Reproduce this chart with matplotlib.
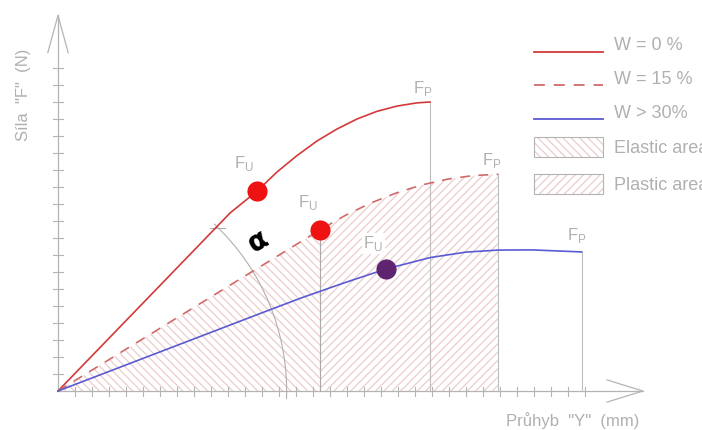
import matplotlib
matplotlib.use("Agg")
import matplotlib.pyplot as plt
from matplotlib.patches import Arc, Rectangle
from matplotlib.lines import Line2D

# ---- data (deflection Y vs. force F, arbitrary units) ----
w0_y = [0, 10.12, 11.71, 12.88, 14.06, 15.24, 16.41, 17.59, 18.76, 19.94, 21.12, 21.88]
w0_f = [0, 10.47, 11.76, 12.88, 13.85, 14.71, 15.41, 16.0, 16.45, 16.76, 16.95, 17.0]
w0_fu = (11.71, 11.76)

w15_y = [0, 15.4, 16.9, 18.4, 19.9, 21.4, 22.9, 24.4, 25.9]
w15_f = [0, 9.47, 10.33, 11.06, 11.65, 12.12, 12.46, 12.67, 12.75]
w15_fu = (15.4, 9.47)

w30_y = [0, 12.0, 14.24, 16.8, 19.3, 21.9, 24.0, 25.9, 27.9, 30.8]
w30_f = [0, 4.6, 5.45, 6.35, 7.18, 7.85, 8.17, 8.29, 8.3, 8.18]
w30_fu = (19.3, 7.18)

x_ticks = list(range(1, 32))
y_ticks = list(range(1, 20))
alpha_radius = 13.45

legend_labels = ["W = 0 %", "W = 15 %", "W > 30%", "Elastic area", "Plastic area"]

GRAY = "#b4b4b4"
TXT = "#b0b0b0"
RED = "#d23a3a"
RED_D = "#cf6a6a"
BLUE = "#5a5ad2"
HATCH = "#edcccc"
FONT = ["Liberation Sans Narrow", "Liberation Sans", "DejaVu Sans"]

plt.rcParams["hatch.linewidth"] = 0.9

fig = plt.figure(figsize=(7.02, 4.30), dpi=100)
ax = fig.add_axes([0, 0, 1, 1])
ax.set_xlim(-58 / 17, (702 - 58) / 17)
ax.set_ylim(-39 / 17, 391 / 17)
ax.axis("off")

# hatched areas under the W = 15 % curve
el = [(u, v) for u, v in zip(w15_y, w15_f) if u <= w15_fu[0]] + [(w15_fu[0], 0)]
pl = [(u, v) for u, v in zip(w15_y, w15_f) if u >= w15_fu[0]] + [(w15_y[-1], 0), (w15_fu[0], 0)]
ax.fill([p[0] for p in el], [p[1] for p in el], facecolor="none", edgecolor=HATCH,
        hatch="\\\\\\\\", linewidth=0, zorder=1)
ax.fill([p[0] for p in pl], [p[1] for p in pl], facecolor="none", edgecolor=HATCH,
        hatch="////", linewidth=0, zorder=1)

# axes with arrows and ticks
ax.plot([0, 34.4], [0, 0], color=GRAY, lw=0.9, zorder=2)
ax.plot([32.3, 34.4, 32.3], [0.65, 0, -0.65], color=GRAY, lw=0.9, zorder=2)
ax.plot([0, 0], [0, 22.1], color=GRAY, lw=0.9, zorder=2)
ax.plot([-0.6, 0, 0.6], [19.9, 22.1, 19.9], color=GRAY, lw=0.9, zorder=2)
for t in x_ticks:
    ax.plot([t, t], [-0.3, 0.25], color=GRAY, lw=0.8, zorder=2)
for t in y_ticks:
    ax.plot([-0.3, 0.3], [t, t], color=GRAY, lw=0.8, zorder=2)

# vertical guides at F_U / F_P
vcol = "#bdbdbd"
ax.plot([w15_fu[0]] * 2, [0, w15_fu[1]], color="#a8a8a8", lw=0.8, zorder=2)
ax.plot([w0_y[-1]] * 2, [0, w0_f[-1]], color=vcol, lw=0.8, zorder=2)
ax.plot([w15_y[-1]] * 2, [0, w15_f[-1]], color=vcol, lw=0.8, zorder=2)
ax.plot([w30_y[-1]] * 2, [0, w30_f[-1]], color=vcol, lw=0.8, zorder=2)

# angle arc
ax.add_patch(Arc((0, 0), 2 * alpha_radius, 2 * alpha_radius, theta1=-2, theta2=47,
                 color="#b0b0b0", lw=0.8, zorder=2))
ax.plot([8.95, 9.85], [9.59, 9.59], color="#b0b0b0", lw=0.8, zorder=2)
ax.text(11.76, 8.8, "α", fontsize=20, fontweight="bold", color="black",
        family="DejaVu Sans", rotation=30, ha="center", va="center", zorder=5)

# curves
ax.plot(w0_y, w0_f, color=RED, lw=1.2, zorder=3)
ax.plot(w15_y, w15_f, color=RED_D, lw=1.2, ls=(0, (6, 5)), zorder=3)
ax.plot(w30_y, w30_f, color=BLUE, lw=1.2, zorder=3)

ax.plot(*w0_fu, "o", ms=14.5, color="#ee1212", mec="none", zorder=4)
ax.plot(*w15_fu, "o", ms=14.5, color="#ee1212", mec="none", zorder=4)
ax.plot(*w30_fu, "o", ms=14.5, color="#5e2470", mec="none", zorder=4)

# F labels
fu = r"F$_\mathregular{U}$"
fp = r"F$_\mathregular{P}$"
lab = dict(fontsize=12, color=TXT, ha="center", va="center", family=FONT, zorder=5)
ax.text(w0_fu[0] - 0.8, w0_fu[1] + 1.6, fu, **lab)
ax.text(w15_fu[0] - 0.7, w15_fu[1] + 1.6, fu, **lab)
ax.text(w30_fu[0] - 0.75, w30_fu[1] + 1.5, fu,
        bbox=dict(facecolor="white", edgecolor="none", pad=1), **lab)
ax.text(w0_y[-1] - 0.4, w0_f[-1] + 0.8, fp, **lab)
ax.text(w15_y[-1] - 0.4, w15_f[-1] + 0.8, fp, **lab)
ax.text(w30_y[-1] - 0.3, w30_f[-1] + 0.95, fp, **lab)

# axis titles
ax.text(-2.0, 17.4, 'Síla  "F"  (N)', rotation=90, fontsize=12, color=TXT,
        ha="center", va="center", family=FONT)
ax.text(30.3, -1.71, 'Průhyb  "Y"  (mm)', fontsize=12, color=TXT,
        ha="center", va="center", family=FONT)

# legend
T = ax.transAxes
def fx(px):
    return px / 702
def fy(py):
    return 1 - py / 430

ax.add_line(Line2D([fx(534), fx(603)], [fy(52)] * 2, transform=T, color=RED, lw=1.3))
ax.add_line(Line2D([fx(534), fx(603)], [fy(85)] * 2, transform=T, color=RED_D, lw=1.3,
                   ls=(0, (6, 5))))
ax.add_line(Line2D([fx(534), fx(603)], [fy(119)] * 2, transform=T, color=BLUE, lw=1.3))
for top, bot, h in [(137, 157, "\\\\\\\\"), (174, 194, "////")]:
    ax.add_patch(Rectangle((fx(534), fy(bot)), fx(603) - fx(534), fy(top) - fy(bot),
                           transform=T, facecolor="none", edgecolor=HATCH, hatch=h, lw=0))
    ax.add_patch(Rectangle((fx(534), fy(bot)), fx(603) - fx(534), fy(top) - fy(bot),
                           transform=T, facecolor="none", edgecolor=GRAY, lw=0.8))
for py, s in zip([45, 80, 114, 148, 185], legend_labels):
    ax.text(fx(614), fy(py), s, transform=T, fontsize=13, color=TXT,
            ha="left", va="center", family=FONT)

fig.savefig("out.png", dpi=100, facecolor="white")
